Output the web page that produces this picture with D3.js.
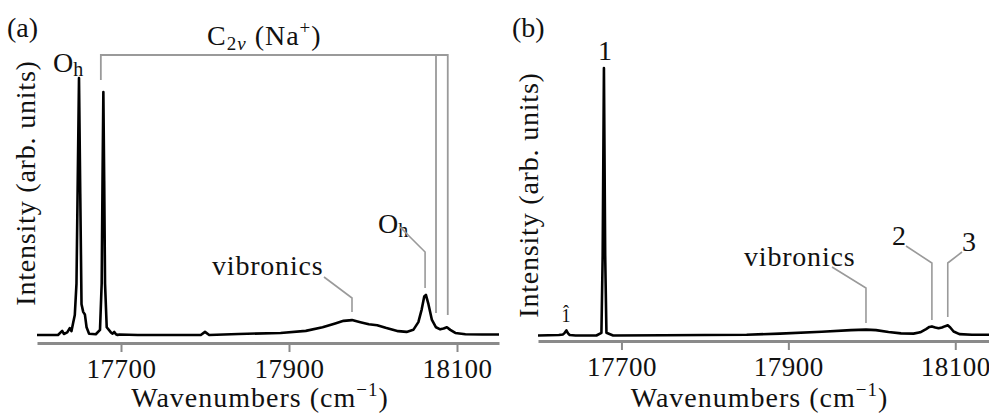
<!DOCTYPE html>
<html lang="en">
<head>
<meta charset="utf-8">
<script src="https://d3js.org/d3.v7.min.js"></script>
<style type="text/css">
  body { margin: 0; background: #fff; }
  text { font-family: "Liberation Serif", "Times New Roman", serif; fill: #111; }
</style>
</head>
<body>
<script type="text/javascript">

  // Spectrum (a): wavenumber (cm^-1) and intensity (arb. units)
  var waveA = [17600, 17625, 17630, 17632, 17636, 17639, 17641, 17643, 17645, 17647, 17648.5, 17650, 17651.5, 17653,
    17655, 17657, 17659, 17662, 17670, 17675, 17677, 17678, 17679, 17680, 17681, 17683, 17688, 17690, 17692, 17694,
    17696, 17698, 17720, 17795, 17800, 17805, 17840, 17890, 17920, 17940, 17955, 17965, 17975, 17985, 17995, 18005,
    18015, 18030, 18040, 18048, 18054, 18058, 18061, 18063, 18066, 18070, 18075, 18080, 18084, 18088, 18092, 18098,
    18110, 18130, 18150];
  var intensityA = [0, 0, 0.016, 0.004, 0.01, 0.027, 0.015, 0.047, 0.078, 0.2, 0.6, 1.0, 0.55, 0.12,
    0.09, 0.08, 0.03, 0.005, 0.003, 0.02, 0.2, 0.6, 0.945, 0.6, 0.2, 0.03, 0.01, 0.005, 0.012, 0.003,
    0, 0.002, 0, 0, 0.012, 0, 0.004, 0.008, 0.016, 0.03, 0.045, 0.055, 0.058, 0.05, 0.042, 0.038,
    0.028, 0.015, 0.012, 0.02, 0.05, 0.1, 0.15, 0.156, 0.12, 0.06, 0.03, 0.022, 0.025, 0.03, 0.02, 0.008,
    0.003, 0.002, 0.002];

  // Spectrum (b)
  var waveB = [17600, 17625, 17630, 17632, 17634, 17636, 17638, 17645, 17670, 17676, 17677.5, 17679, 17680.5, 17682,
    17690, 17750, 17850, 17890, 17940, 17975, 17993, 18005, 18020, 18035, 18050, 18058, 18065, 18069, 18072, 18076,
    18080, 18084, 18088, 18091, 18094, 18098, 18105, 18120, 18150];
  var intensityB = [0, 0.002, 0.004, 0.01, 0.019, 0.008, 0.002, 0, 0, 0.01, 0.3, 1.0, 0.3, 0.01,
    0, 0.001, 0.003, 0.007, 0.014, 0.02, 0.022, 0.02, 0.013, 0.008, 0.007, 0.012, 0.024, 0.032, 0.034, 0.03,
    0.027, 0.03, 0.035, 0.038, 0.03, 0.015, 0.005, 0.003, 0.003];

  var xDomain = [17600, 18150];
  var tickValues = [17700, 17900, 18100];
  var xLabel = "Wavenumbers (cm";
  var yLabel = "Intensity (arb. units)";

  var width = 989;
  var height = 414;
  var grey = "#9a9a9a";

  var svg = d3.select("body")
    .append("svg")
    .attr("width", width)
    .attr("height", height);

  function drawPanel(p) {
    var x = d3.scaleLinear().domain(xDomain).range([p.left, p.right]);
    var y = d3.scaleLinear().domain([0, 1]).range([p.base, p.top]);
    var g = svg.append("g");

    // axis
    var axis = d3.axisBottom(x).tickValues(tickValues).tickSize(9).tickSizeOuter(0).tickFormat(d3.format("d"));
    var ax = g.append("g").attr("transform", "translate(0," + p.axisY + ")").call(axis);
    ax.select(".domain").attr("stroke", "#8a8a8a").attr("stroke-width", 3);
    ax.selectAll(".tick line").attr("stroke", "#8a8a8a").attr("stroke-width", 2);
    ax.selectAll(".tick text")
      .attr("y", 35).attr("dy", null)
      .style("font-size", "27px")
      .style("font-family", "'Liberation Serif', serif")
      .style("letter-spacing", "0.5px")
      .attr("fill", "#111");

    // x label
    var xl = g.append("text")
      .attr("x", (p.left + p.right) / 2 - 8)
      .attr("y", 407)
      .attr("text-anchor", "middle")
      .style("font-size", "28px")
      .style("letter-spacing", "1px")
      .text(xLabel);
    xl.append("tspan").attr("dy", -11).style("font-size", "19px").text("\u22121");
    xl.append("tspan").attr("dy", 11).text(")");

    // y label
    g.append("text")
      .attr("transform", "translate(" + p.yLabelX + "," + p.yLabelY + ") rotate(-90)")
      .attr("text-anchor", "middle")
      .style("font-size", "28px")
      .style("letter-spacing", "0.8px")
      .text(yLabel);

    // spectrum line
    var line = d3.line()
      .x(function(d) { return x(d[0]); })
      .y(function(d) { return y(d[1]); });
    g.append("path")
      .datum(d3.zip(p.wave, p.intensity))
      .attr("d", line)
      .attr("fill", "none")
      .attr("stroke", "#000")
      .attr("stroke-width", 2.6)
      .attr("stroke-linejoin", "round");

    return { x: x, y: y, g: g };
  }

  function leader(g, pts) {
    g.append("path")
      .attr("d", d3.line()(pts))
      .attr("fill", "none")
      .attr("stroke", grey)
      .attr("stroke-width", 1.6);
  }

  function label(g, x, y, txt, size) {
    return g.append("text").attr("x", x).attr("y", y).style("font-size", (size || 28) + "px").text(txt);
  }

  // ---- panel (a)
  var a = drawPanel({ left: 37, right: 499, base: 335, top: 78, axisY: 343,
    yLabelX: 35, yLabelY: 183, wave: waveA, intensity: intensityA });

  label(a.g, 7, 37, "(a)");
  var oh1 = label(a.g, 53, 72, "O");
  oh1.append("tspan").attr("dy", 4).style("font-size", "20px").text("h");

  var c2v = label(a.g, 207, 45, "C").style("letter-spacing", "1px");
  c2v.append("tspan").attr("dy", 5).style("font-size", "19px").text("2");
  c2v.append("tspan").style("font-size", "19px").style("font-style", "italic").text("v");
  c2v.append("tspan").attr("dy", -5).text("  (Na");
  c2v.append("tspan").attr("dy", -11).style("font-size", "19px").text("+");
  c2v.append("tspan").attr("dy", 11).text(")");

  // C2v bracket
  a.g.append("path")
    .attr("d", "M" + a.x(17676) + ",80V55H" + a.x(18089) + "V315M" + a.x(18075) + ",55V313")
    .attr("fill", "none")
    .attr("stroke", grey)
    .attr("stroke-width", 1.8);

  label(a.g, 212, 275, "vibronics").style("letter-spacing", "0.8px");
  leader(a.g, [[324, 277], [a.x(17975), 298], [a.x(17975), 312]]);

  var oh2 = label(a.g, 378, 233, "O");
  oh2.append("tspan").attr("dy", 4).style("font-size", "20px").text("h");
  leader(a.g, [[400, 227], [a.x(18062), 252], [a.x(18062), 288]]);

  // ---- panel (b)
  var b = drawPanel({ left: 538, right: 997, base: 335.5, top: 68, axisY: 341,
    yLabelX: 538, yLabelY: 195, wave: waveB, intensity: intensityB });

  label(b.g, 512, 37, "(b)");
  label(b.g, 598, 60, "1");
  // 1-hat: digit with a circumflex tspan pulled back over it
  var oneHat = label(b.g, 561.5, 322, "1", 18);
  oneHat.append("tspan").attr("dx", -7.5).attr("dy", -4).text("\u02C6");
  label(b.g, 744, 266, "vibronics").style("letter-spacing", "0.8px");
  leader(b.g, [[832, 267], [b.x(17993), 288], [b.x(17993), 323]]);
  label(b.g, 892, 245, "2");
  leader(b.g, [[906, 246], [b.x(18072), 263], [b.x(18072), 320]]);
  label(b.g, 962, 251, "3");
  leader(b.g, [[962, 252], [b.x(18091), 263], [b.x(18091), 317]]);

</script>
</body>
</html>
